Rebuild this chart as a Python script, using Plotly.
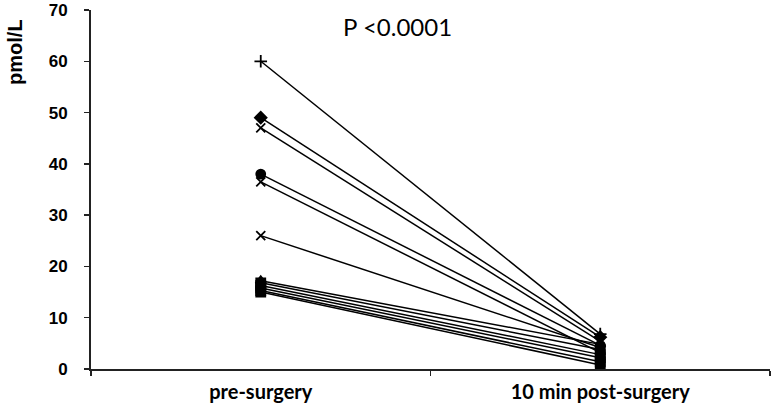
import plotly.graph_objects as go

categories = ["pre-surgery", "10 min post-surgery"]
pre_values = [60, 49, 47, 38, 36.5, 26, 17.2, 16.8, 16.3, 15.8, 15.3, 15.0]
post_values = [6.8, 6.2, 5.4, 4.6, 3.2, 4.2, 4.8, 3.8, 2.8, 2.2, 1.4, 0.8]
symbols = ["cross-thin", "diamond", "x-thin", "circle", "x-thin", "x-thin",
           "triangle-up", "square", "square", "square", "square", "square"]
p_text = "P <0.0001"
y_title = "pmol/L"
y_ticks = [0, 10, 20, 30, 40, 50, 60, 70]

fig = go.Figure()
for pre, post, sym in zip(pre_values, post_values, symbols):
    fig.add_trace(go.Scatter(
        x=categories, y=[pre, post], mode="lines+markers",
        line=dict(color="black", width=1.5),
        marker=dict(symbol=sym, size=9, color="black",
                    line=dict(color="black", width=1.8)),
        showlegend=False, hoverinfo="skip"))

fig.add_annotation(text=p_text, xref="paper", yref="paper", x=0.452, y=0.955,
                   showarrow=False, xanchor="center", yanchor="middle",
                   font=dict(family="Lato, Open Sans", size=24, color="black"))
fig.add_annotation(text="<b>" + y_title + "</b>", xref="paper", yref="paper",
                   x=-0.112, y=0.883, textangle=-90, showarrow=False,
                   xanchor="center", yanchor="middle",
                   font=dict(family="Liberation Sans, Arial", size=20, color="black"))

fig.update_layout(
    width=773, height=413,
    margin=dict(l=91, r=3, t=10, b=44),
    plot_bgcolor="white", paper_bgcolor="white",
    xaxis=dict(type="category", tickson="boundaries", ticks="outside", ticklen=5,
               tickwidth=1.5, tickcolor="#222", showline=True, linecolor="#222",
               linewidth=2, showgrid=False, zeroline=False, automargin=False,
               tickfont=dict(family="Lato, Open Sans", size=20, color="black", weight="bold"),
               ticklabelstandoff=4, range=[-0.5, 1.5]),
    yaxis=dict(range=[0, 70], tickvals=y_ticks, ticks="outside", ticklen=5,
               tickwidth=1.5, tickcolor="#222", showline=True, linecolor="#222",
               linewidth=2, showgrid=False, zeroline=False, automargin=False,
               tickfont=dict(family="Liberation Sans, Arial", size=17, color="black", weight="bold"),
               ticklabelstandoff=13),
)

fig.write_html("out.html", config={"displayModeBar": False, "staticPlot": True},
               post_script="document.body.style.margin='0';document.body.style.overflow='hidden';")
